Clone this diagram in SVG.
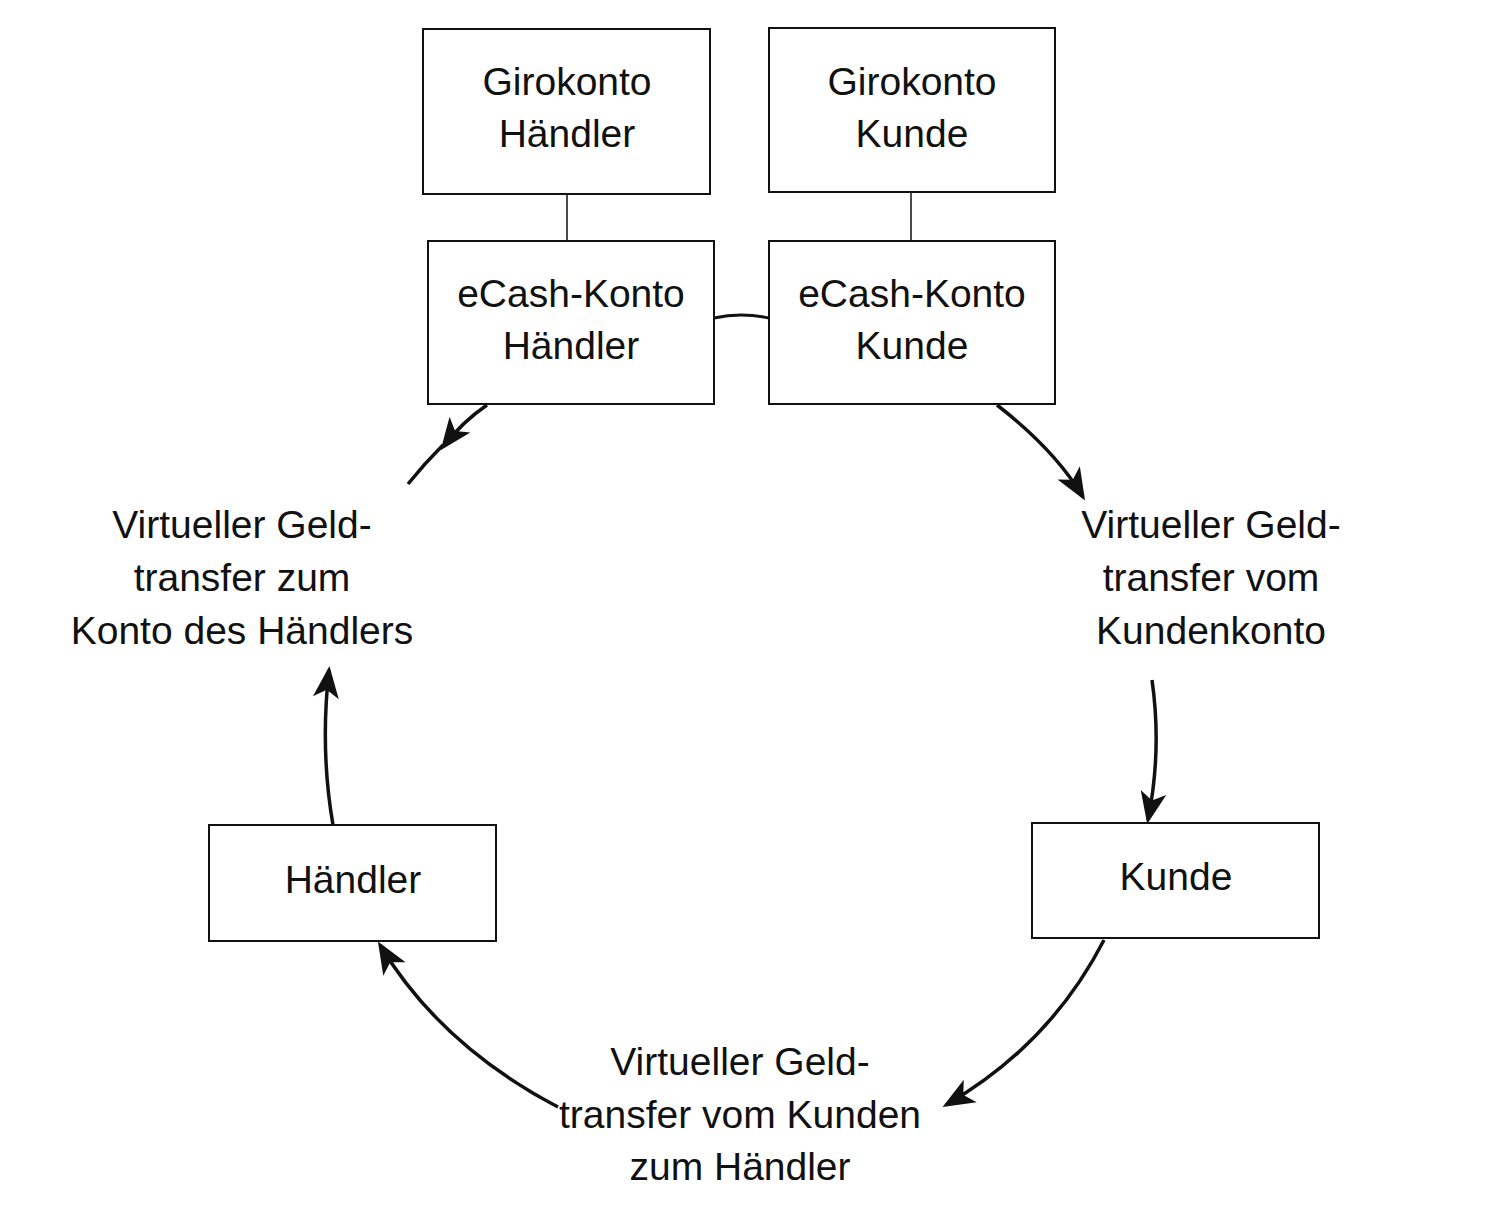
<svg xmlns="http://www.w3.org/2000/svg" width="1509" height="1213" viewBox="0 0 1509 1213">
<style>
.b{fill:#fff;stroke:#111;stroke-width:2}
text{font-family:"Liberation Sans",sans-serif;font-size:39px;fill:#111;text-anchor:middle}
.c{fill:none;stroke:#111;stroke-width:3.5}
.t{fill:none;stroke:#111;stroke-width:1.5}
</style>
<defs>
<marker id="a" viewBox="-30 -15 40 30" refX="0" refY="0" markerWidth="40" markerHeight="30" markerUnits="userSpaceOnUse" orient="auto" overflow="visible">
<path d="M-28,-13 L4,0 L-28,13 L-20,0 Z" fill="#111"/>
</marker>
</defs>
<rect width="1509" height="1213" fill="#fff"/>
<g id="giro-haendler"><rect class="b" x="423" y="29" width="287" height="165"/><text x="567" y="95">Girokonto</text><text x="567" y="147">Händler</text></g>
<g id="giro-kunde"><rect class="b" x="769" y="28" width="286" height="164"/><text x="912" y="95">Girokonto</text><text x="912" y="147">Kunde</text></g>
<g id="ecash-haendler"><rect class="b" x="428" y="241" width="286" height="163"/><text x="571" y="307">eCash-Konto</text><text x="571" y="359">Händler</text></g>
<g id="ecash-kunde"><rect class="b" x="769" y="241" width="286" height="163"/><text x="912" y="307">eCash-Konto</text><text x="912" y="359">Kunde</text></g>
<g id="haendler"><rect class="b" x="209" y="825" width="287" height="116"/><text x="353" y="893">Händler</text></g>
<g id="kunde"><rect class="b" x="1032" y="823" width="287" height="115"/><text x="1176" y="890">Kunde</text></g>
<g id="label-left"><text x="242" y="538">Virtueller Geld-</text><text x="242" y="591">transfer zum</text><text x="242" y="644">Konto des Händlers</text></g>
<g id="label-right"><text x="1211" y="538">Virtueller Geld-</text><text x="1211" y="591">transfer vom</text><text x="1211" y="644">Kundenkonto</text></g>
<g id="label-bottom"><text x="740" y="1075">Virtueller Geld-</text><text x="740" y="1128">transfer vom Kunden</text><text x="740" y="1180">zum Händler</text></g>
<g id="connectors">
<path class="t" d="M567,194 V241 M911,192 V241"/>
<path class="c" d="M714,318 Q741,312 769,318" style="stroke-width:3"/>
<path class="c" d="M487,405 Q462,422 443,447" marker-end="url(#a)"/>
<path class="c" d="M443,445 Q424,464 408,484"/>
<path class="c" d="M997,405 Q1055,450 1083,497" marker-end="url(#a)"/>
<path class="c" d="M1152,680 Q1162,750 1148,820" marker-end="url(#a)"/>
<path class="c" d="M1104,940 Q1050,1045 946,1105" marker-end="url(#a)"/>
<path class="c" d="M558,1107 Q440,1045 380,945" marker-end="url(#a)"/>
<path class="c" d="M333,825 Q320,750 329,670" marker-end="url(#a)"/>
</g>
</svg>
